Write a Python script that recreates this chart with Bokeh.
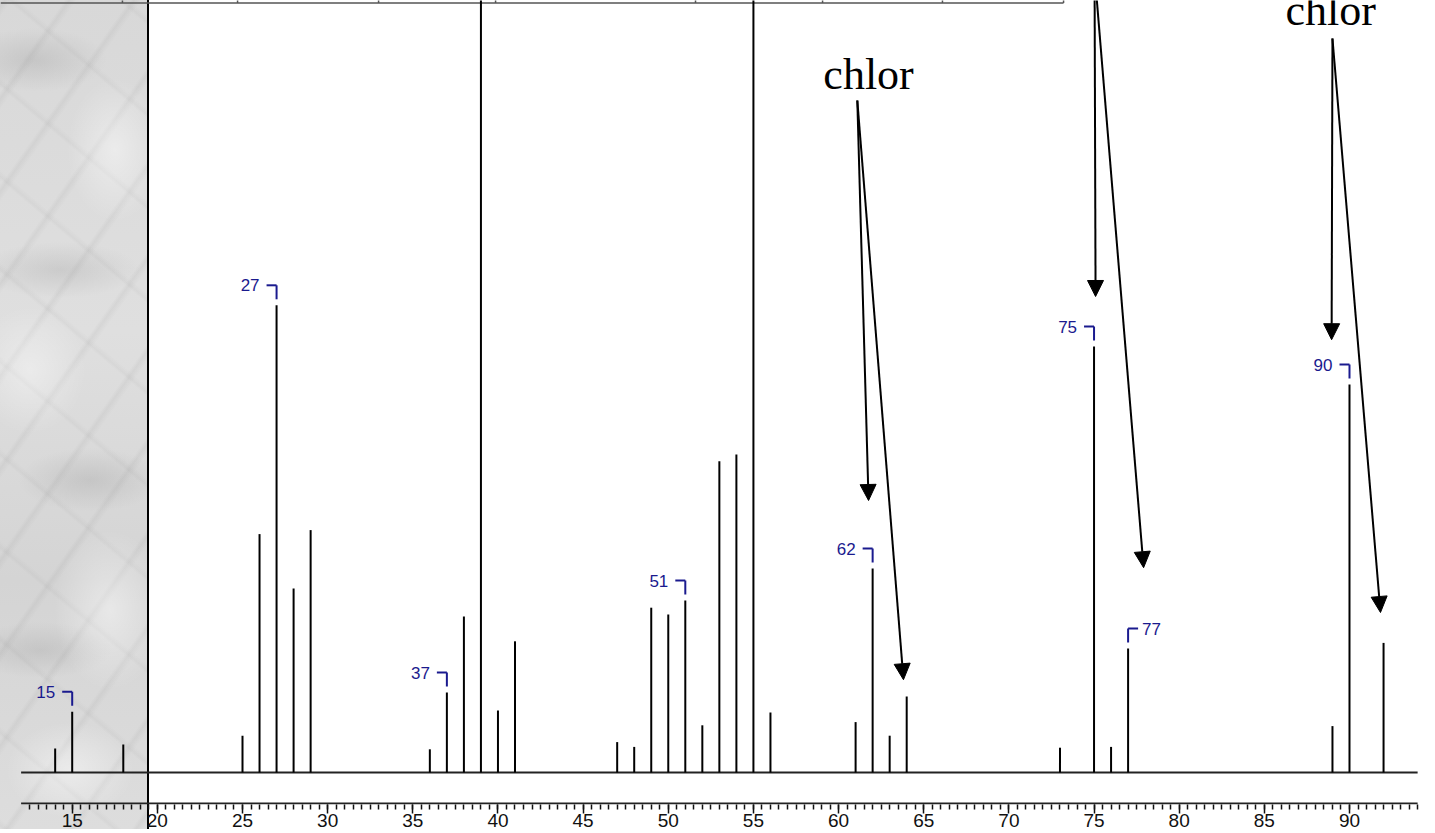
from bokeh.plotting import figure
from bokeh.models import FixedTicker, Arrow, NormalHead, ColumnDataSource, Range1d
from bokeh.embed import file_html
from bokeh.resources import INLINE
from bokeh.core.properties import value
import numpy as np

# ---------------- data ----------------
mz = [14, 15, 18, 25, 26, 27, 28, 29, 36, 37, 38, 39, 40, 41,
      47, 48, 49, 50, 51, 52, 53, 54, 55, 56, 61, 62, 63, 64,
      73, 75, 76, 77, 89, 90, 92]
intensity = [3.0, 7.6, 3.5, 4.6, 29.8, 58.4, 23.0, 30.3, 2.9, 10.0, 19.5, 100.0, 7.75, 16.4,
             3.8, 3.2, 20.6, 19.75, 21.5, 5.9, 38.9, 39.75, 100.0, 7.5, 6.3, 25.5, 4.6, 9.5,
             3.1, 53.25, 3.2, 15.5, 5.8, 48.5, 16.2]
labels_left = [15, 27, 37, 51, 62, 75, 90]
labels_right = [77]
major_ticks = [15, 20, 25, 30, 35, 40, 45, 50, 55, 60, 65, 70, 75, 80, 85, 90]
axis_start, axis_end = 12, 94

# annotation arrows (data units): start -> tip
arrow_x0 = [61.1, 61.1, 75.03, 75.03, 89.0, 89.0]
arrow_y0 = [84.0, 84.0, 100.0, 100.0, 91.75, 91.75]
arrow_x1 = [61.76, 63.81, 75.09, 77.91, 88.95, 91.82]
arrow_y1 = [34.0, 11.6, 59.5, 25.6, 54.1, 20.0]
note_text = ["chlor", "chlor"]
note_x = [61.76, 88.89]
note_y = [87.2, 95.3]

# top table border separators (m/z units)
table_seps = [17.95, 24.71, 32.99, 39.86, 51.60, 59.06, 66.10, 73.21]

# ---------------- layout constants ----------------
PXX = 1 / 17.03   # data units per pixel (x)
PXY = 1 / 8.0     # data units per pixel (y)
X0, X1 = 10.79, 95.05
Y0, Y1 = -4.0, 96.5

p = figure(frame_width=1435, frame_height=804, output_backend="svg", toolbar_location=None,
           x_range=Range1d(X0, X1), y_range=Range1d(Y0, Y1),
           y_axis_location=None, min_border_left=0, min_border_right=0,
           min_border_top=0, min_border_bottom=0,
           background_fill_color=None, border_fill_color=None,
           outline_line_color=None)
p.grid.visible = False

p.styles = {
    "background": (
        "linear-gradient(90deg, rgba(0,0,0,0) 0px, rgba(0,0,0,0) 147px, #000 147px, #000 149px, #fff 149px),"
        "radial-gradient(ellipse 90px 40px at 35px 60px, rgba(130,130,130,0.22), rgba(130,130,130,0) 80%),"
        "radial-gradient(ellipse 60px 90px at 115px 150px, rgba(255,255,255,0.45), rgba(255,255,255,0) 80%),"
        "radial-gradient(ellipse 100px 35px at 60px 270px, rgba(130,130,130,0.2), rgba(130,130,130,0) 80%),"
        "radial-gradient(ellipse 70px 80px at 30px 370px, rgba(255,255,255,0.4), rgba(255,255,255,0) 80%),"
        "radial-gradient(ellipse 90px 40px at 90px 480px, rgba(130,130,130,0.22), rgba(130,130,130,0) 80%),"
        "radial-gradient(ellipse 70px 100px at 110px 610px, rgba(255,255,255,0.45), rgba(255,255,255,0) 80%),"
        "radial-gradient(ellipse 90px 35px at 40px 650px, rgba(130,130,130,0.2), rgba(130,130,130,0) 80%),"
        "radial-gradient(ellipse 80px 60px at 70px 770px, rgba(255,255,255,0.45), rgba(255,255,255,0) 80%),"
        "repeating-linear-gradient(125deg, rgba(120,120,120,0) 0px, rgba(120,120,120,0.09) 4px, rgba(120,120,120,0) 10px, rgba(120,120,120,0) 53px),"
        "repeating-linear-gradient(40deg, rgba(130,130,130,0) 0px, rgba(130,130,130,0.07) 3px, rgba(130,130,130,0) 8px, rgba(130,130,130,0) 71px),"
        "linear-gradient(180deg, #d8d8d8, #dfdfdf 40%, #d4d4d4 70%, #dddddd)"
    )
}

# x axis (ticks + labels)
ax = p.xaxis[0]
ax.ticker = FixedTicker(ticks=major_ticks, minor_ticks=list(np.arange(12.5, 94.01, 0.5)))
ax.axis_line_color = None
ax.major_tick_in = 0
ax.major_tick_out = 9
ax.minor_tick_in = 0
ax.minor_tick_out = 5
ax.major_tick_line_color = "#111111"
ax.minor_tick_line_color = "#111111"
ax.major_tick_line_width = 1.5
ax.minor_tick_line_width = 1.5
ax.major_label_text_font = "Liberation Sans"
ax.major_label_text_font_size = "19px"
ax.major_label_text_color = "#111111"
ax.major_label_standoff = 0

# own axis line + spectrum baseline
p.segment(x0=[axis_start], y0=[Y0 + PXY], x1=[axis_end], y1=[Y0 + PXY], line_color="#222222", line_width=2)
p.segment(x0=[axis_start], y0=[0], x1=[axis_end], y1=[0], line_color="#222222", line_width=2)

# top table border
p.segment(x0=[X0], y0=[Y1 - 2.5 * PXY], x1=[table_seps[-1]], y1=[Y1 - 2.5 * PXY], line_color="#555555", line_width=1.5)
p.segment(x0=table_seps, y0=[Y1 - 2.5 * PXY] * len(table_seps), x1=table_seps, y1=[Y1 + 1] * len(table_seps),
          line_color="#555555", line_width=1.5)

# peaks
src = ColumnDataSource(dict(mz=mz, top=intensity, base=[0] * len(mz)))
p.segment(x0="mz", y0="base", x1="mz", y1="top", source=src, line_color="black", line_width=2)

# blue peak labels with brackets
lookup = dict(zip(mz, intensity))
blue = "#1a1a8e"
lx, ly, bx0, by0, bx1, by1 = [], [], [], [], [], []
for m in labels_left:
    c = lookup[m] + 20 * PXY
    bx0 += [m - 10 * PXX, m]; by0 += [c, c]
    bx1 += [m, m]; by1 += [c, lookup[m] + 6 * PXY]
    lx.append(m - 17 * PXX); ly.append(c)
p.text(x=lx, y=ly, text=[str(m) for m in labels_left], text_align="right", text_baseline="middle",
       text_color=blue, text_font=value("Liberation Sans"), text_font_size="17px")
rx, ry = [], []
for m in labels_right:
    c = lookup[m] + 20 * PXY
    bx0 += [m, m]; by0 += [c, c]
    bx1 += [m + 10 * PXX, m]; by1 += [c, lookup[m] + 6 * PXY]
    rx.append(m + 14 * PXX); ry.append(c)
p.text(x=rx, y=ry, text=[str(m) for m in labels_right], text_align="left", text_baseline="middle",
       text_color=blue, text_font=value("Liberation Sans"), text_font_size="17px")
p.segment(x0=bx0, y0=by0, x1=bx1, y1=by1, line_color=blue, line_width=2)

# annotations
asrc = ColumnDataSource(dict(x0=arrow_x0, y0=arrow_y0, x1=arrow_x1, y1=arrow_y1))
p.add_layout(Arrow(source=asrc, x_start="x0", y_start="y0", x_end="x1", y_end="y1",
                   line_color="black", line_width=2,
                   end=NormalHead(size=16, fill_color="black", line_color="black")))
p.text(x=note_x, y=note_y, text=note_text, text_align="center", text_baseline="alphabetic",
       text_color="black", text_font=value("Liberation Serif"), text_font_size="44px")

open("out.html", "w").write(file_html(p, INLINE))
